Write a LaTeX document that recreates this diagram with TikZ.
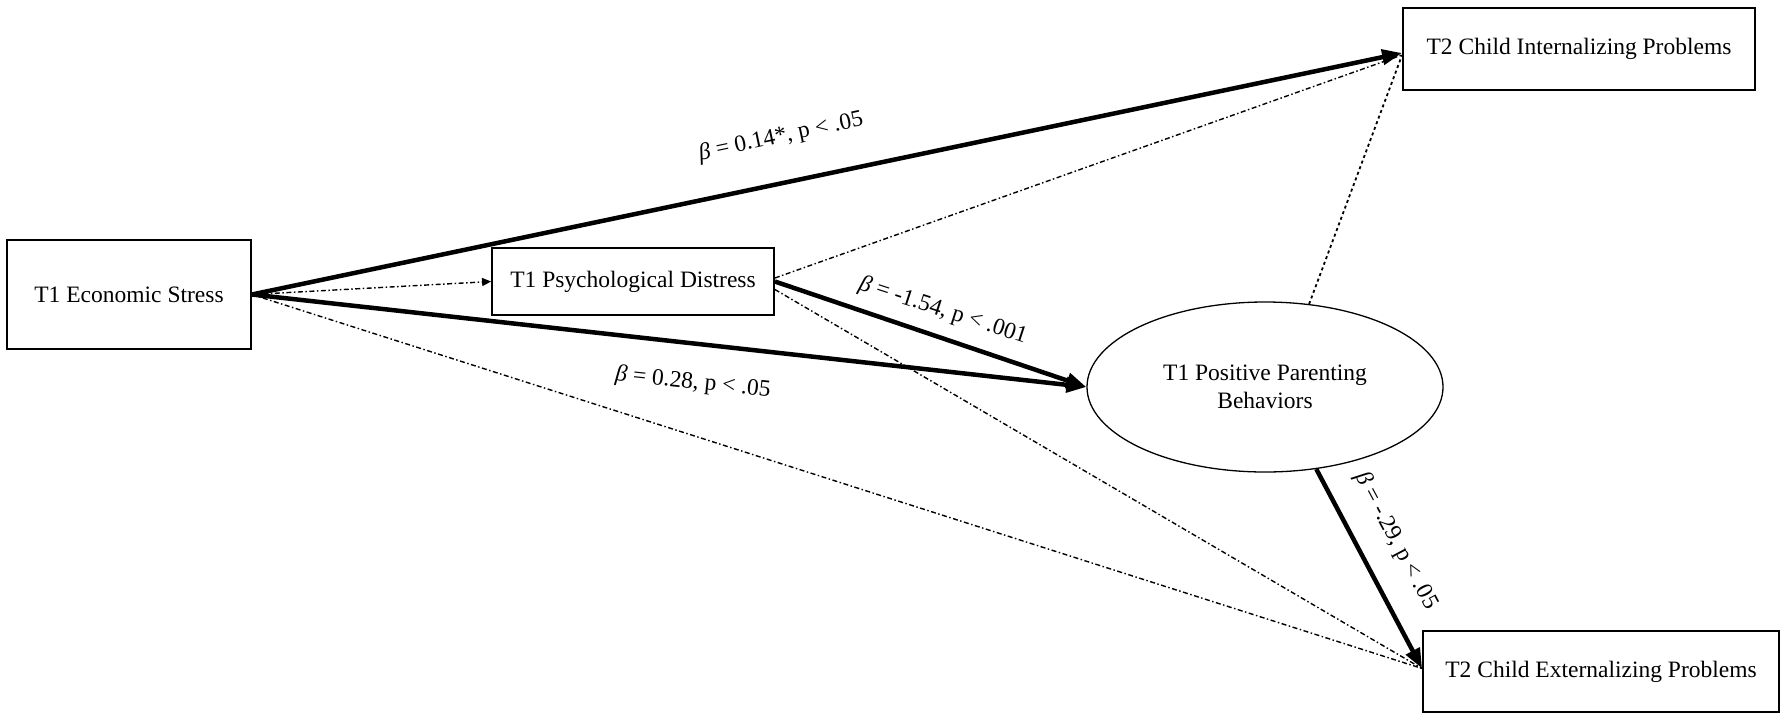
\documentclass[tikz,border=0pt]{standalone}
\usepackage{fontspec}
\setmainfont{Liberation Serif}
\usetikzlibrary{arrows.meta,shapes.geometric}
\begin{document}
\begin{tikzpicture}[x=1pt,y=-1pt,
  font=\fontsize{23.5}{28}\selectfont,
  box/.style={draw, line width=1.8pt, rectangle, inner sep=0pt},
  strong/.style={line width=4.5pt, -{Triangle[length=20pt,width=15pt]}},
  weak/.style={line width=1.4pt, dash pattern=on 5pt off 2.5pt on 1.5pt off 2.5pt},
  dotline/.style={line width=1.8pt, dash pattern=on 3pt off 3pt},
  coef/.style={inner sep=0pt}]
\useasboundingbox (0,0) rectangle (1784,715);
\fill[white] (0,0) rectangle (1784,715);

\node[box, minimum width=244pt, minimum height=109pt] (econ) at (129,294.5) {T1 Economic Stress};
\node[box, minimum width=282pt, minimum height=67pt] (psych) at (633,281.5) {T1 Psychological Distress};
\node[box, minimum width=352pt, minimum height=82pt] (intern) at (1579,49) {T2 Child Internalizing Problems};
\node[box, minimum width=356pt, minimum height=81pt] (extern) at (1601,671.5) {T2 Child Externalizing Problems};
\node[draw, ellipse, line width=1.3pt, minimum width=356pt, minimum height=170pt, inner sep=0pt, align=center] (parent) at (1265,387) {T1 Positive Parenting\\Behaviors};

% non-significant paths
\draw[weak, -{Triangle[length=9pt,width=8pt]}] (econ.east) -- (psych.west);
\draw[weak] (econ.east) -- ([yshift=3pt]extern.west);
\draw[weak] ([yshift=3.5pt]psych.east) -- ([yshift=-6pt]intern.west);
\draw[weak] ([yshift=-8pt]psych.east) -- ([yshift=3pt]extern.west);
\draw[dotline] (parent.62) -- ([yshift=-6pt]intern.west);

% significant paths
\draw[strong] (econ.east) -- ([yshift=-4pt]intern.west);
\draw[strong] (econ.east) -- (parent.west);
\draw[strong] (psych.east) -- (parent.west);
\draw[strong] (parent.-58) -- ([yshift=3pt]extern.west);

% coefficients
\node[coef, rotate=12] (c1) at (781,137) {\textit{β} = 0.14*, p < .05};
\node[coef, rotate=-6] (c2) at (693,383) {\textit{β} = 0.28, p < .05};
\node[coef, rotate=-18] (c3) at (943,311) {\textit{β} = -1.54, p < .001};
\node[coef, rotate=-62] (c4) at (1396,541) {\textit{β} = -.29, p < .05};
\end{tikzpicture}
\end{document}
